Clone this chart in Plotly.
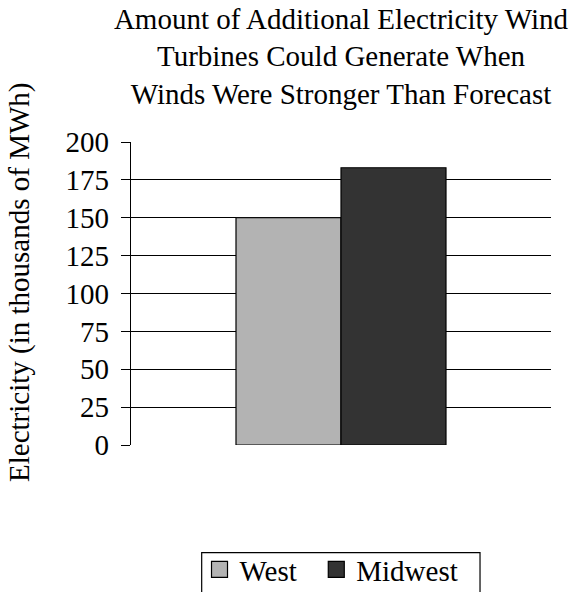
import plotly.graph_objects as go

categories = ["West", "Midwest"]
values = [150, 183]
colors = ["#b3b3b3", "#333333"]
tick_vals = [0, 25, 50, 75, 100, 125, 150, 175, 200]
title_lines = ["Amount of Additional Electricity Wind",
               "Turbines Could Generate When",
               "Winds Were Stronger Than Forecast"]
y_title = "Electricity (in thousands of MWh)"
legend_pad = [2, 3]  # trailing non-breaking spaces to widen legend entries

FONT = "Liberation Serif, Times New Roman, serif"
FS = 29

fig = go.Figure()
for name, v, c in zip(categories, values, colors):
    fig.add_trace(go.Bar(
        x=["g"], y=[v], name=name, showlegend=False,
        marker=dict(color=c, line=dict(color="#000000", width=1.2)),
    ))
# legend entries (square swatches)
for name, c, p in zip(categories, colors, legend_pad):
    fig.add_trace(go.Scatter(
        x=[None], y=[None], mode="markers", name=name + "&nbsp;" * p,
        showlegend=True,
        marker=dict(symbol="square", size=16, color=c,
                    line=dict(color="#000000", width=1.2)),
    ))

fig.update_layout(
    width=580, height=592,
    margin=dict(l=131, r=29, t=142, b=147, autoexpand=False),
    paper_bgcolor="white", plot_bgcolor="white",
    font=dict(family=FONT, size=FS, color="black"),
    barmode="group", bargap=0.5, bargroupgap=0,
    title=dict(text="<br>".join(title_lines), x=0.5, xref="paper",
               xanchor="center", y=1 - 28.5 / 592, yref="container",
               yanchor="middle",
               font=dict(family=FONT, size=FS, color="black")),
    showlegend=True,
    legend=dict(orientation="h", x=0.5036, xanchor="center", xref="paper",
                y=-0.3267, yanchor="top", yref="paper",
                bgcolor="rgba(0,0,0,0)", borderwidth=0,
                font=dict(family=FONT, size=FS, color="black"),
                traceorder="normal", itemwidth=30),
)
# legend frame
fig.add_shape(type="rect", xref="paper", yref="paper",
              x0=0.1683, x1=0.831, y0=-0.3554, y1=-0.62,
              line=dict(color="black", width=1.2), fillcolor="rgba(0,0,0,0)",
              layer="above")
fig.update_xaxes(showticklabels=False, showgrid=False, zeroline=False,
                 showline=False, ticks="")
fig.update_yaxes(range=[0, 200], tickvals=tick_vals, ticks="outside",
                 ticklen=9, tickwidth=1.2, tickcolor="black",
                 ticklabelstandoff=6,
                 showline=True, linecolor="black", linewidth=1.2,
                 showgrid=True, gridcolor="black", gridwidth=1.2,
                 zeroline=False, tickfont=dict(family=FONT, size=FS))
fig.add_annotation(text=y_title, textangle=-90, xref="paper", yref="paper",
                   x=-0.264, y=0.535, xanchor="center", yanchor="middle",
                   showarrow=False, font=dict(family=FONT, size=FS, color="black"))

fig.write_html("out.html", config={"displayModeBar": False},
               post_script="document.body.style.margin='0';"
                           "document.body.style.padding='0';")
